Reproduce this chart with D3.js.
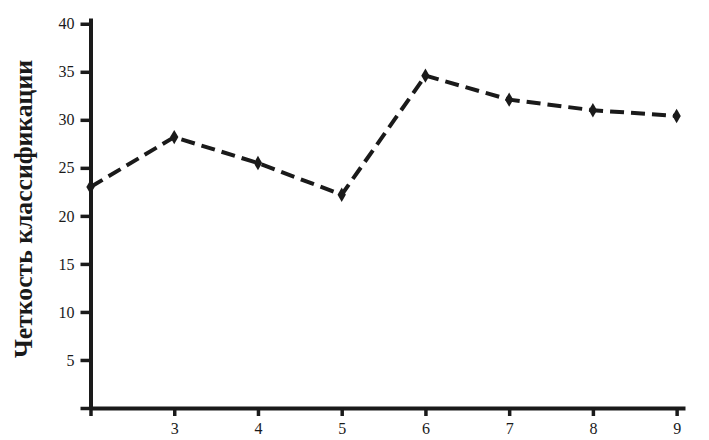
<!DOCTYPE html>
<html>
<head>
<meta charset="utf-8">
<script src="https://cdn.jsdelivr.net/npm/d3@7"></script>
<style>
  body { margin: 0; background: #fff; }
</style>
</head>
<body>
<div id="chart"></div>
<script>
const xValues = [2, 3, 4, 5, 6, 7, 8, 9];
const yValues = [23.0, 28.2, 25.5, 22.2, 34.6, 32.1, 31.0, 30.4];
const xTicks = [2, 3, 4, 5, 6, 7, 8, 9];
const yTicks = [0, 5, 10, 15, 20, 25, 30, 35, 40];
const yLabel = 'Четкость классификации';

const width = 709;
const height = 440;
const serif = '"Liberation Serif", "Times New Roman", serif';

const svg = d3.select('#chart').append('svg')
  .attr('width', width)
  .attr('height', height);

const x = d3.scaleLinear().domain([2, 9.1]).range([90.5, 685]);
const y = d3.scaleLinear().domain([0, 40.6]).range([408, 18]);

const xAxis = svg.append('g')
  .attr('transform', `translate(0,${y(0)})`)
  .call(d3.axisBottom(x)
    .tickValues(xTicks)
    .tickSize(8)
    .tickPadding(7)
    .tickSizeOuter(0)
    .tickFormat(d => d === 2 ? '' : d));

const yAxis = svg.append('g')
  .attr('transform', `translate(${x(2)},0)`)
  .call(d3.axisLeft(y)
    .tickValues(yTicks)
    .tickSize(10)
    .tickPadding(6)
    .tickSizeOuter(0)
    .tickFormat(d => d === 0 ? '' : d));

[xAxis, yAxis].forEach(g => {
  g.attr('font-family', serif).attr('font-size', 16);
  g.select('.domain').attr('stroke', '#1a1a1a').attr('stroke-width', 4);
  g.selectAll('.tick line').attr('stroke', '#1a1a1a').attr('stroke-width', 3.5);
  g.selectAll('.tick text').attr('fill', '#1a1a1a');
});

svg.append('text')
  .attr('transform', `translate(32,209) rotate(-90)`)
  .attr('text-anchor', 'middle')
  .attr('font-family', serif)
  .attr('font-size', 25)
  .attr('font-weight', 'bold')
  .attr('fill', '#1a1a1a')
  .attr('textLength', 298)
  .attr('lengthAdjust', 'spacingAndGlyphs')
  .text(yLabel);

const points = xValues.map((d, i) => ({ x: d, y: yValues[i] }));

const line = d3.line()
  .x(d => x(d.x))
  .y(d => y(d.y));

svg.append('path')
  .datum(points)
  .attr('d', line)
  .attr('fill', 'none')
  .attr('stroke', '#1a1a1a')
  .attr('stroke-width', 4)
  .attr('stroke-dasharray', '14,7');

svg.selectAll('.marker')
  .data(points)
  .join('path')
  .attr('class', 'marker')
  .attr('d', d3.symbol().type(d3.symbolDiamond).size(60))
  .attr('transform', d => `translate(${x(d.x)},${y(d.y)})`)
  .attr('fill', '#1a1a1a');
</script>
</body>
</html>
